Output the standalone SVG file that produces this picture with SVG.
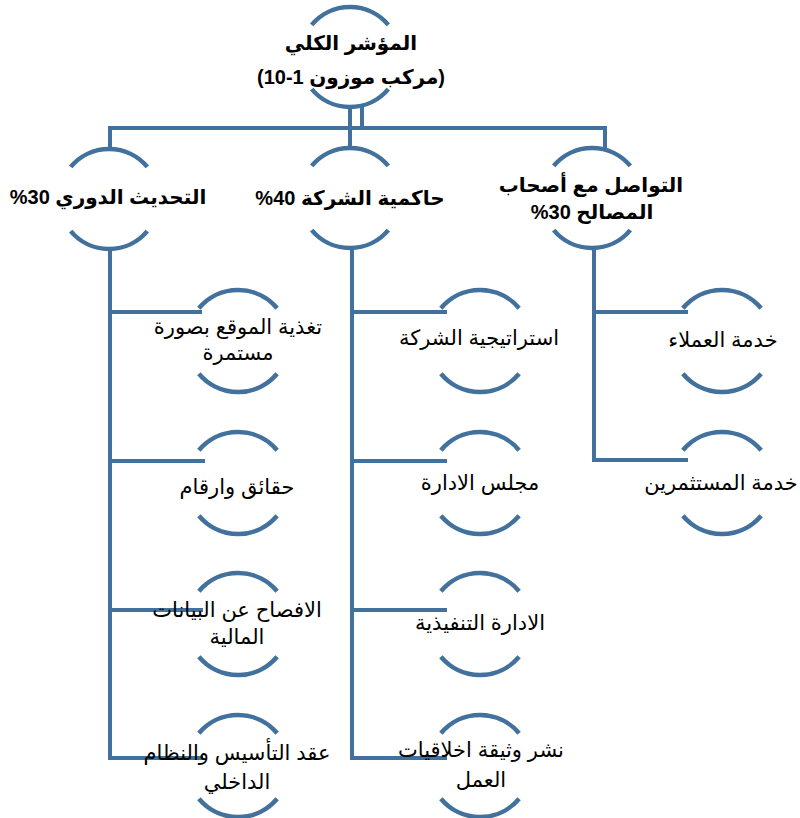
<svg xmlns="http://www.w3.org/2000/svg" xmlns:xlink="http://www.w3.org/1999/xlink" width="800" height="818" viewBox="0 0 800 818">
<style>
.arc{fill:none;stroke:#41719c;stroke-width:4.5}
.ln{fill:none;stroke:#41719c;stroke-width:4}
.t{font-family:"Liberation Sans","DejaVu Sans",sans-serif;font-size:21px;fill:#000;text-anchor:middle;direction:rtl}
.b{font-weight:bold;font-size:20px}
</style>
<defs>
<path id="arcs" class="arc" d="M-38.3,-32.1 A50,50 0 0 1 38.3,-32.1 M-38.3,32.1 A50,50 0 0 0 38.3,32.1"/>
<path id="arcs2" class="arc" d="M-39.1,-32.8 A51,51 0 0 1 39.1,-32.8 M-39.1,32.8 A51,51 0 0 0 39.1,32.8"/>
</defs>
<rect width="800" height="818" fill="#fff"/>
<g id="connectors">
<path class="ln" d="M350,106 V149"/>
<path class="ln" d="M362,106 V128 H110 V149"/>
<path class="ln" d="M362,128 H605 V149"/>
<path class="ln" d="M110,248 V758 M108,312 H202 M108,461 H205 M108,610 H203 M108,758 H203"/>
<path class="ln" d="M352,247 V758 M350,312 H447 M350,461 H447 M350,610 H447 M350,758 H447"/>
<path class="ln" d="M594,247 V460 M592,312 H688 M592,460 H688"/>
</g>
<g id="n0"><use xlink:href="#arcs" x="350" y="57"/>
<text class="t b" x="351" y="50">المؤشر الكلي</text>
<text class="t b" x="351" y="84">(مركب موزون 1-10)</text></g>
<g id="n1"><use xlink:href="#arcs" x="109" y="199"/>
<text class="t b" x="108" y="204">التحديث الدوري 30%</text></g>
<g id="n2"><use xlink:href="#arcs" x="350" y="198"/>
<text class="t b" x="350" y="205">حاكمية الشركة 40%</text></g>
<g id="n3"><use xlink:href="#arcs" x="592" y="198"/>
<text class="t b" x="591" y="192">التواصل مع أصحاب</text>
<text class="t b" x="592" y="219">المصالح 30%</text></g>
<g id="n11"><use xlink:href="#arcs2" x="238" y="341"/>
<text class="t" x="238" y="334">تغذية الموقع بصورة</text>
<text class="t" x="238" y="360">مستمرة</text></g>
<g id="n12"><use xlink:href="#arcs2" x="238" y="483"/>
<text class="t" x="237" y="494">حقائق وارقام</text></g>
<g id="n13"><use xlink:href="#arcs2" x="238" y="624"/>
<text class="t" x="237" y="617">الافصاح عن البيانات</text>
<text class="t" x="237" y="644">المالية</text></g>
<g id="n14"><use xlink:href="#arcs2" x="238" y="766"/>
<text class="t" x="237" y="760">عقد التأسيس والنظام</text>
<text class="t" x="237" y="789">الداخلي</text></g>
<g id="n21"><use xlink:href="#arcs2" x="480" y="341"/>
<text class="t" x="479" y="345">استراتيجية الشركة</text></g>
<g id="n22"><use xlink:href="#arcs2" x="480" y="483"/>
<text class="t" x="480" y="490">مجلس الادارة</text></g>
<g id="n23"><use xlink:href="#arcs2" x="480" y="624"/>
<text class="t" x="480" y="630">الادارة التنفيذية</text></g>
<g id="n24"><use xlink:href="#arcs2" x="480" y="766"/>
<text class="t" x="481" y="757">نشر وثيقة اخلاقيات</text>
<text class="t" x="481" y="787">العمل</text></g>
<g id="n31"><use xlink:href="#arcs2" x="722" y="341"/>
<text class="t" x="723" y="347">خدمة العملاء</text></g>
<g id="n32"><use xlink:href="#arcs2" x="722" y="483"/>
<text class="t" x="721" y="490">خدمة المستثمرين</text></g>
</svg>
